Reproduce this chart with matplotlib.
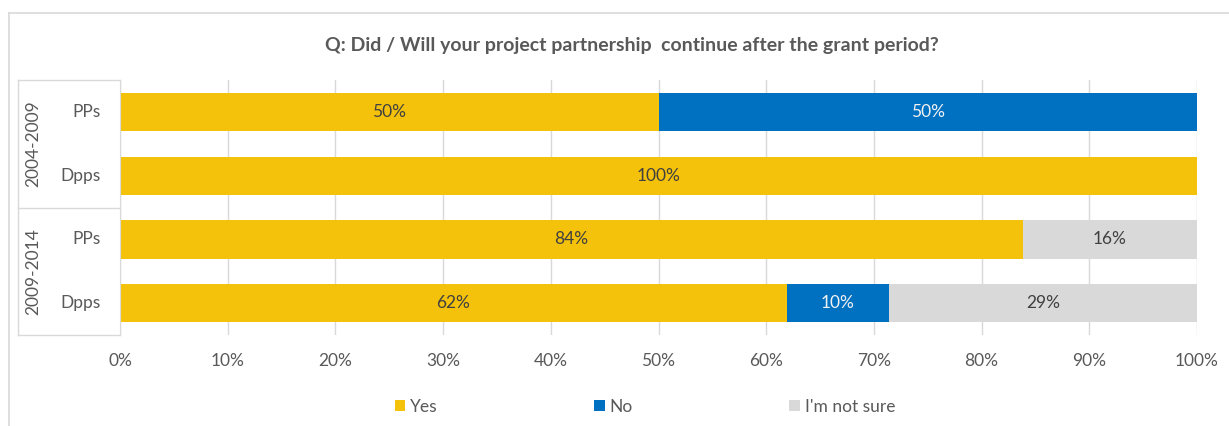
import matplotlib
matplotlib.use("Agg")
import matplotlib.pyplot as plt
from matplotlib.lines import Line2D
from matplotlib.transforms import blended_transform_factory
import numpy as np

# Survey answers, percentages per respondent group
periods = ["2004-2009", "2009-2014"]
groups = ["PPs", "Dpps", "PPs", "Dpps"]
answers = ["Yes", "No", "I'm not sure"]
yes = [50.0, 100.0, 83.8, 61.9]
no = [50.0, 0.0, 0.0, 9.5]
not_sure = [0.0, 0.0, 16.2, 28.6]
x_ticks = [0, 10, 20, 30, 40, 50, 60, 70, 80, 90, 100]

colors = ["#F5C20B", "#0070C0", "#D9D9D9"]
label_colors = ["#404040", "#F2F2F2", "#404040"]
text_gray = "#595959"
fs = 12.5

plt.rcParams["font.family"] = ["Lato", "DejaVu Sans"]

W, H = 1229, 426
fig = plt.figure(figsize=(W / 100, H / 100), dpi=100)
ax = fig.add_axes([120 / W, 1 - 335 / H, (1197 - 120) / W, (335 - 80) / H])

y = np.arange(len(groups))
left = np.zeros(len(groups))
handles = []
for vals, name, c, lc in zip([yes, no, not_sure], answers, colors, label_colors):
    vals = np.array(vals)
    bars = ax.barh(y, vals, left=left, height=0.6, color=c, label=name, zorder=2)
    handles.append(bars)
    for yi, l, v in zip(y, left, vals):
        if v > 0:
            ax.text(l + v / 2, yi, f"{v:.0f}%", ha="center", va="center",
                    fontsize=fs, color=lc, zorder=3)
    left += vals

ax.set_xlim(0, 100)
ax.set_ylim(len(groups) - 0.5, -0.5)
ax.set_xticks(x_ticks)
ax.set_xticklabels([f"{t}%" for t in x_ticks], fontsize=fs, color=text_gray)
ax.tick_params(axis="x", length=0, pad=13)
ax.set_yticks([])
ax.grid(axis="x", color="#D9D9D9", linewidth=1, zorder=0)
for s in ["top", "right", "bottom"]:
    ax.spines[s].set_visible(False)
ax.spines["left"].set_color("#D9D9D9")

# Two-level category axis: group labels and period labels with separators
trans = blended_transform_factory(fig.transFigure, ax.transData)
for yi, g in zip(y, groups):
    ax.text(101 / W, yi, g, transform=trans, ha="right", va="center",
            fontsize=fs, color=text_gray)
for i, p in enumerate(periods):
    ax.text(33 / W, 2 * i + 0.5, p, transform=trans, ha="center", va="center",
            rotation=90, fontsize=fs, color=text_gray)
x0, x1 = 18 / W, 120 / W
for yb in [-0.5, 1.5, 3.5]:
    ax.add_line(Line2D([x0, x1], [yb, yb], transform=trans, color="#D9D9D9",
                       linewidth=1, clip_on=False))
ax.add_line(Line2D([x0, x0], [-0.5, 3.5], transform=trans, color="#D9D9D9",
                   linewidth=1, clip_on=False))

# Chart frame
fig.add_artist(Line2D([9 / W, 1], [1 - 12.5 / H, 1 - 12.5 / H], transform=fig.transFigure,
                      color="#D9D9D9", linewidth=1.2))
fig.add_artist(Line2D([9 / W, 9 / W], [0, 1 - 12.5 / H], transform=fig.transFigure,
                      color="#D9D9D9", linewidth=1.2))

fig.text(632 / W, 1 - 45 / H, "Q: Did / Will your project partnership  continue after the grant period?",
         ha="center", va="center", fontsize=14, fontweight="bold", color=text_gray)

fig.legend(handles=handles, labels=answers, loc="center", ncol=3,
           bbox_to_anchor=(645 / W, 1 - 407 / H), frameon=False,
           fontsize=fs, labelcolor=text_gray, handlelength=0.6, handleheight=0.6,
           handletextpad=0.3, columnspacing=9.0)

fig.savefig("out.png", dpi=100, facecolor="white")
